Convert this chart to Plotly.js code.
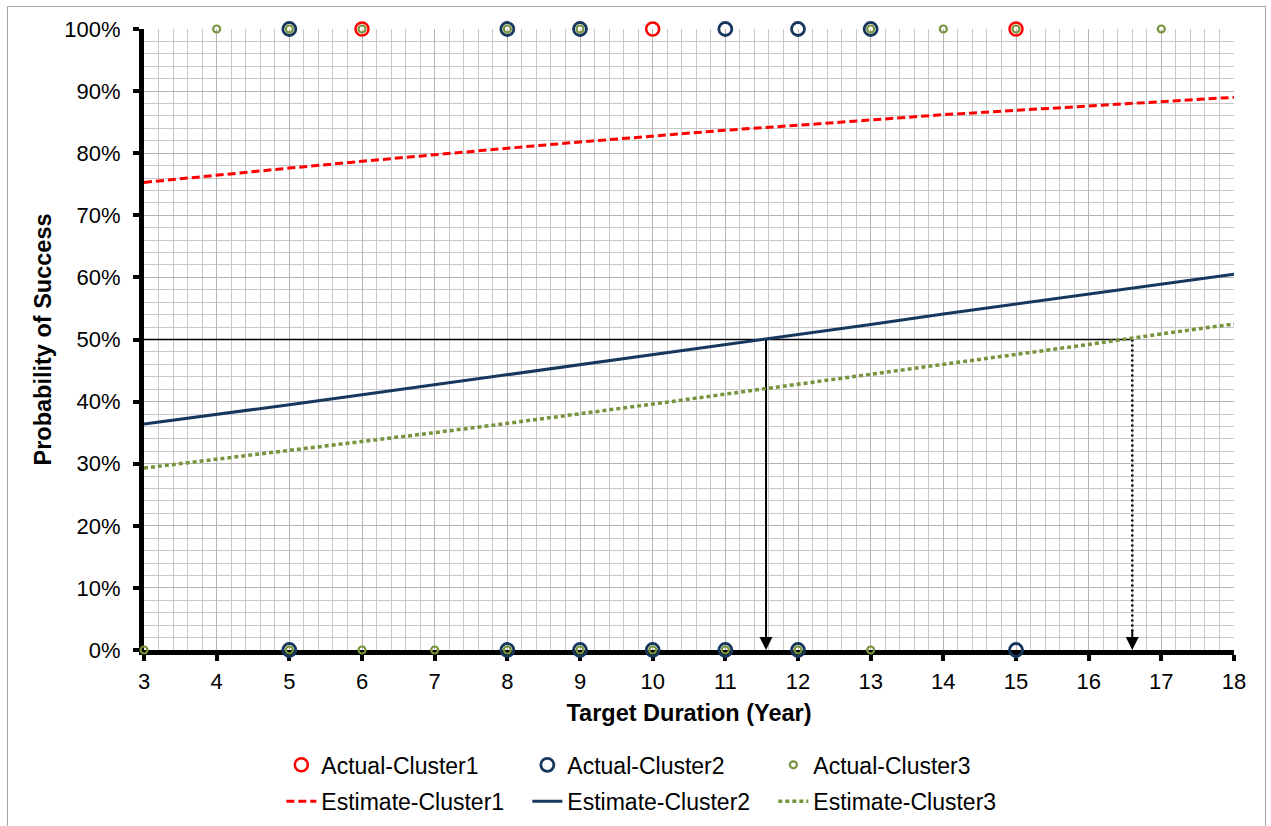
<!DOCTYPE html>
<html><head><meta charset="utf-8">
<script src="https://cdn.plot.ly/plotly-3.0.1.min.js"></script>
<style>
html,body{margin:0;padding:0;background:#fff}
#wrap{position:relative;width:1271px;height:826px;overflow:hidden}
#chart{width:1271px;height:826px}
#frame{position:absolute;left:7px;top:6px;width:1259px;height:840px;border:1px solid #a6a6a6;pointer-events:none;box-sizing:border-box}
</style>
</head><body><div id="wrap"><div id="chart"></div><div id="frame"></div></div>
<script>
// ---- data ----
const years = [3,4,5,6,7,8,9,10,11,12,13,14,15,16,17,18];
const estCluster1 = [0.753,0.765,0.776,0.787,0.798,0.808,0.818,0.828,0.837,0.845,0.854,0.862,0.869,0.876,0.883,0.890];
const estCluster2 = [0.364,0.379,0.395,0.411,0.427,0.443,0.459,0.475,0.492,0.508,0.524,0.541,0.557,0.573,0.589,0.605];
const estCluster3 = [0.293,0.307,0.321,0.335,0.350,0.365,0.380,0.396,0.412,0.428,0.443,0.460,0.476,0.492,0.509,0.525];

const act1X = [6,10,15];
const act1Y = [1,1,1];
const act2X = [5,8,9,11,12,13, 5,8,9,10,11,12,15];
const act2Y = [1,1,1,1,1,1, 0,0,0,0,0,0,0];
const act3X = [4,5,6,8,9,13,14,15,17, 3,5,6,7,8,9,10,11,12,13];
const act3Y = [1,1,1,1,1,1,1,1,1, 0,0,0,0,0,0,0,0,0,0];

const crossX = [11.56, 16.6];   // durations where cluster2 / cluster3 reach target
const targetP = 0.5;
const xStart = 3;

const names = ['Actual-Cluster1','Actual-Cluster2','Actual-Cluster3','Estimate-Cluster1','Estimate-Cluster2','Estimate-Cluster3'];

// ---- styles ----
const RED = '#ff0000', NAVY = '#17375e', OLIVE = '#77933c';
const FONT = 'Liberation Sans, Arial, sans-serif';

const traces = [
  // guide lines
  {x:[xStart, crossX[1]], y:[targetP, targetP], mode:'lines', line:{color:'#000', width:1.5}, showlegend:false, hoverinfo:'skip'},
  {x:[crossX[0], crossX[0]], y:[targetP, 0.03], mode:'lines', line:{color:'#000', width:2}, showlegend:false, hoverinfo:'skip'},
  {x:[crossX[1], crossX[1]], y:[targetP, 0.03], mode:'lines', line:{color:'#000', width:2.5, dash:'2px,3px'}, showlegend:false, hoverinfo:'skip'},
  // estimates
  {x:years, y:estCluster1, name:names[3], mode:'lines', line:{color:RED, width:3, dash:'8px,4px'}, legend:'legend2'},
  {x:years, y:estCluster2, name:names[4], mode:'lines', line:{color:NAVY, width:3}, legend:'legend2'},
  {x:years, y:estCluster3, name:names[5], mode:'lines', line:{color:OLIVE, width:3.5, dash:'4px,3px'}, legend:'legend2'},
  // actuals
  {x:act1X, y:act1Y, name:names[0], mode:'markers', cliponaxis:false, marker:{symbol:'circle-open', size:13, color:RED, line:{width:2.5, color:RED}}, legend:'legend'},
  {x:act2X, y:act2Y, name:names[1], mode:'markers', cliponaxis:false, marker:{symbol:'circle-open', size:13, color:NAVY, line:{width:2.8, color:NAVY}}, legend:'legend'},
  {x:act3X, y:act3Y, name:names[2], mode:'markers', cliponaxis:false, marker:{symbol:'circle-open', size:7, color:OLIVE, line:{width:2.2, color:OLIVE}}, legend:'legend'}
];

const arrowAnn = crossX.map(cx => ({
  x: cx, y: 0, xref:'x', yref:'y', ax: cx, ay: 0.035, axref:'x', ayref:'y',
  text:'', showarrow:true, arrowhead:2, arrowsize:1.3, arrowwidth:2, arrowcolor:'#000'
}));

const layout = {
  width:1271, height:826,
  margin:{l:144, r:37, t:29, b:176, autoexpand:false},
  paper_bgcolor:'#fff', plot_bgcolor:'#fff',
  font:{family:FONT, size:22, color:'#000'},
  xaxis:{
    range:[3,18], dtick:1, tick0:3,
    showline:true, linecolor:'#000', linewidth:5, layer:'below traces',
    ticks:'outside', ticklen:6, tickwidth:4, tickcolor:'#000',
    showgrid:true, gridcolor:'#b4b4b4', gridwidth:1,
    minor:{dtick:0.2, showgrid:true, gridcolor:'#c8c8c8', gridwidth:1},
    zeroline:false,
    tickfont:{size:22}, ticklabelstandoff:2,
    title:{text:'<b>Target Duration (Year)</b>', font:{size:23.5}, standoff:13}
  },
  yaxis:{
    range:[0,1], dtick:0.1, tickformat:'.0%',
    showline:true, linecolor:'#000', linewidth:5, layer:'below traces',
    ticks:'outside', ticklen:6, tickwidth:4, tickcolor:'#000',
    showgrid:true, gridcolor:'#b4b4b4', gridwidth:1,
    minor:{dtick:0.02, showgrid:true, gridcolor:'#c8c8c8', gridwidth:1},
    zeroline:false,
    tickfont:{size:22}, ticklabelstandoff:8,
    title:{text:'<b>Probability of Success</b>', font:{size:23.5}, standoff:8}
  },
  legend:{orientation:'h', x:0.126, xanchor:'left', yref:'container', y:0.074, yanchor:'middle',
    entrywidth:201, entrywidthmode:'pixels', font:{size:23}, bgcolor:'rgba(0,0,0,0)', tracegroupgap:0},
  legend2:{orientation:'h', x:0.126, xanchor:'left', yref:'container', y:0.030, yanchor:'middle',
    entrywidth:201, entrywidthmode:'pixels', font:{size:23}, bgcolor:'rgba(0,0,0,0)', tracegroupgap:0},
  annotations: arrowAnn,
  showlegend:true
};

Plotly.newPlot('chart', traces, layout, {displayModeBar:false, staticPlot:true});
</script>
</body></html>
